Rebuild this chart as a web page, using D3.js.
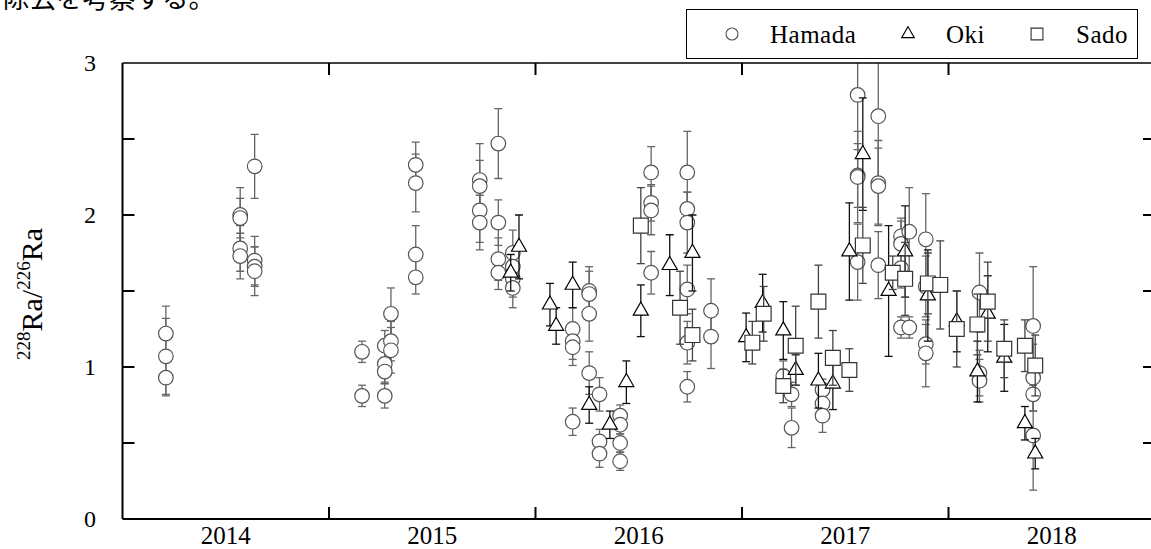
<!DOCTYPE html>
<html>
<head>
<meta charset="utf-8">
<script src="https://cdn.jsdelivr.net/npm/d3@7"></script>
<style>
  body { margin: 0; background: #fff; }
  svg { display: block; }
</style>
</head>
<body>
<script>
// Axis labels
const yearLabels = ["2014", "2015", "2016", "2017", "2018"];
const yMajorTicks = [0, 1, 2, 3];
const yMinorTicks = [0.5, 1.5, 2.5];
const seriesNames = ["Hamada", "Oki", "Sado"];

// Each row: [decimal year, 228Ra/226Ra activity ratio, ±error]
const hamada = [
  [2014.21, 1.22, 0.18], [2014.21, 1.07, 0.25], [2014.21, 0.93, 0.12],
  [2014.57, 2.00, 0.18], [2014.57, 1.98, 0.13], [2014.57, 1.78, 0.15], [2014.57, 1.73, 0.15],
  [2014.64, 2.32, 0.21], [2014.64, 1.70, 0.16], [2014.64, 1.66, 0.13], [2014.64, 1.63, 0.16],
  [2015.16, 1.10, 0.07], [2015.16, 0.81, 0.07],
  [2015.27, 1.14, 0.10], [2015.27, 1.02, 0.12], [2015.27, 0.97, 0.08], [2015.27, 0.81, 0.08],
  [2015.30, 1.35, 0.17], [2015.30, 1.17, 0.13], [2015.30, 1.11, 0.15],
  [2015.42, 2.33, 0.15], [2015.42, 2.21, 0.19], [2015.42, 1.74, 0.19], [2015.42, 1.59, 0.11],
  [2015.73, 2.23, 0.24], [2015.73, 2.19, 0.17], [2015.73, 2.03, 0.21], [2015.73, 1.95, 0.18],
  [2015.82, 2.47, 0.23], [2015.82, 1.95, 0.15], [2015.82, 1.71, 0.14], [2015.82, 1.62, 0.11],
  [2015.89, 1.75, 0.15], [2015.89, 1.66, 0.12], [2015.89, 1.58, 0.12], [2015.89, 1.52, 0.13],
  [2016.18, 1.25, 0.14], [2016.18, 1.17, 0.12], [2016.18, 1.13, 0.12], [2016.18, 0.64, 0.09],
  [2016.26, 1.50, 0.16], [2016.26, 1.48, 0.15], [2016.26, 1.35, 0.18], [2016.26, 0.96, 0.14],
  [2016.31, 0.82, 0.11], [2016.31, 0.51, 0.08], [2016.31, 0.43, 0.09],
  [2016.41, 0.68, 0.07], [2016.41, 0.62, 0.06], [2016.41, 0.50, 0.06], [2016.41, 0.38, 0.06],
  [2016.56, 2.28, 0.17], [2016.56, 2.08, 0.12], [2016.56, 2.03, 0.16], [2016.56, 1.62, 0.14],
  [2016.735, 2.28, 0.27], [2016.735, 2.04, 0.11], [2016.735, 1.95, 0.20], [2016.735, 1.51, 0.16],
  [2016.735, 1.16, 0.14], [2016.735, 0.87, 0.10],
  [2016.85, 1.37, 0.21], [2016.85, 1.20, 0.21],
  [2017.20, 0.94, 0.10],
  [2017.24, 0.82, 0.08], [2017.24, 0.60, 0.13],
  [2017.39, 0.85, 0.07], [2017.39, 0.76, 0.07], [2017.39, 0.68, 0.11],
  [2017.56, 2.79, 0.36], [2017.56, 2.26, 0.21], [2017.56, 2.25, 0.30], [2017.56, 1.69, 0.25],
  [2017.66, 2.65, 0.45], [2017.66, 2.21, 0.28], [2017.66, 2.19, 0.25], [2017.66, 1.67, 0.22],
  [2017.77, 1.86, 0.12], [2017.77, 1.81, 0.15], [2017.77, 1.65, 0.13], [2017.77, 1.26, 0.07],
  [2017.81, 1.89, 0.29], [2017.81, 1.26, 0.07],
  [2017.89, 1.84, 0.30], [2017.89, 1.53, 0.20], [2017.89, 1.15, 0.13], [2017.89, 1.09, 0.22],
  [2018.15, 1.49, 0.26], [2018.15, 0.96, 0.15], [2018.15, 0.91, 0.14],
  [2018.41, 1.27, 0.39], [2018.41, 0.93, 0.22], [2018.41, 0.82, 0.11], [2018.41, 0.55, 0.36]
];

const oki = [
  [2015.88, 1.62, 0.12], [2015.92, 1.79, 0.21],
  [2016.07, 1.41, 0.14], [2016.10, 1.27, 0.12], [2016.18, 1.54, 0.15],
  [2016.26, 0.75, 0.12], [2016.36, 0.62, 0.09], [2016.44, 0.90, 0.14],
  [2016.51, 1.37, 0.17], [2016.65, 1.67, 0.20], [2016.76, 1.75, 0.25],
  [2017.02, 1.195, 0.16], [2017.10, 1.42, 0.19], [2017.20, 1.24, 0.19], [2017.26, 0.98, 0.10],
  [2017.37, 0.91, 0.18], [2017.44, 0.89, 0.17], [2017.52, 1.76, 0.32], [2017.585, 2.40, 0.37],
  [2017.71, 1.50, 0.43], [2017.79, 1.76, 0.30], [2017.90, 1.47, 0.30],
  [2018.04, 1.30, 0.20], [2018.14, 0.97, 0.20], [2018.19, 1.35, 0.25], [2018.27, 1.06, 0.22],
  [2018.37, 0.63, 0.11], [2018.42, 0.43, 0.10]
];

const sado = [
  [2016.51, 1.93, 0.25], [2016.70, 1.39, 0.24], [2016.76, 1.21, 0.17],
  [2017.05, 1.16, 0.14], [2017.105, 1.35, 0.18], [2017.20, 0.875, 0.11], [2017.26, 1.14, 0.26],
  [2017.37, 1.43, 0.24], [2017.44, 1.06, 0.18], [2017.52, 0.98, 0.14], [2017.585, 1.80, 0.25],
  [2017.73, 1.62, 0.11], [2017.79, 1.58, 0.24], [2017.90, 1.55, 0.20], [2017.96, 1.54, 0.29],
  [2018.04, 1.25, 0.25], [2018.14, 1.28, 0.20], [2018.19, 1.43, 0.26], [2018.27, 1.12, 0.19],
  [2018.37, 1.14, 0.17], [2018.42, 1.01, 0.20]
];

const W = 1151, H = 549;
const serif = "'Liberation Serif', 'Times New Roman', serif";

const svg = d3.select("body").append("svg")
  .attr("width", W).attr("height", H)
  .attr("viewBox", `0 0 ${W} ${H}`);

// Scales: decimal year across, activity ratio up
const x = d3.scaleLinear().domain([2014, 2019]).range([122.5, 1155]);
const y = d3.scaleLinear().domain([0, 3]).range([519, 63]);
const [x0, x1] = x.range();
const [yb, yt] = y.range();

// Trailing line of the preceding paragraph, cut at the page top
svg.append("text")
  .attr("x", 3).attr("y", 8)
  .attr("font-family", "'Noto Sans CJK JP', sans-serif")
  .attr("font-size", 26.5)
  .attr("fill", "#000")
  .text("除去を考察する。");

// Clip region so long error bars stop at the frame
svg.append("clipPath").attr("id", "plot-clip")
  .append("rect").attr("x", x0).attr("y", yt).attr("width", x1 - x0).attr("height", yb - yt);

const plot = svg.append("g").attr("clip-path", "url(#plot-clip)");

const symbolPaths = {
  triangle: d3.symbol().type(d3.symbolTriangle).size(98)(),
  square: d3.symbol().type(d3.symbolSquare).size(220)()
};

const styles = [
  { data: hamada, shape: "circle", stroke: "#555", bar: "#666" },
  { data: oki, shape: "triangle", stroke: "#000", bar: "#111" },
  { data: sado, shape: "square", stroke: "#333", bar: "#444" }
];

const capHalf = 4;

styles.forEach(s => {
  const g = plot.append("g");
  // error bars
  const bars = g.append("g")
    .attr("stroke", s.bar).attr("stroke-width", 1.3).attr("fill", "none");
  s.data.forEach(([t, v, e]) => {
    const cx = x(t);
    bars.append("line").attr("x1", cx).attr("x2", cx).attr("y1", y(v + e)).attr("y2", y(v - e));
    bars.append("line").attr("x1", cx - capHalf).attr("x2", cx + capHalf).attr("y1", y(v + e)).attr("y2", y(v + e));
    bars.append("line").attr("x1", cx - capHalf).attr("x2", cx + capHalf).attr("y1", y(v - e)).attr("y2", y(v - e));
  });
  // markers
  const marks = g.append("g")
    .attr("stroke", s.stroke).attr("stroke-width", 1.2).attr("fill", "#fff");
  s.data.forEach(([t, v]) => {
    if (s.shape === "circle") {
      marks.append("circle").attr("cx", x(t)).attr("cy", y(v)).attr("r", 7.3);
    } else {
      marks.append("path").attr("d", symbolPaths[s.shape])
        .attr("transform", `translate(${x(t)},${y(v)})`);
    }
  });
});

// Frame
const frame = svg.append("g").attr("stroke", "#000").attr("fill", "none");
frame.append("line").attr("x1", x0).attr("x2", x1).attr("y1", yt).attr("y2", yt).attr("stroke-width", 1.5);
frame.append("line").attr("x1", x0).attr("x2", x1).attr("y1", yb).attr("y2", yb).attr("stroke-width", 2);
frame.append("line").attr("x1", x0).attr("x2", x0).attr("y1", yt).attr("y2", yb).attr("stroke-width", 2);
frame.append("line").attr("x1", x1).attr("x2", x1).attr("y1", yt).attr("y2", yb).attr("stroke-width", 2);

const tickLen = 12;
const yAllTicks = yMajorTicks.concat(yMinorTicks).filter(v => v > 0 && v < 3);
yAllTicks.forEach(v => {
  frame.append("line").attr("x1", x0).attr("x2", x0 + tickLen).attr("y1", y(v)).attr("y2", y(v)).attr("stroke-width", 2);
  frame.append("line").attr("x1", x1).attr("x2", x1 - tickLen).attr("y1", y(v)).attr("y2", y(v)).attr("stroke-width", 2);
});
const yearBounds = x.ticks(5).filter(t => t > 2014 && t < 2019);
yearBounds.forEach(t => {
  frame.append("line").attr("x1", x(t)).attr("x2", x(t)).attr("y1", yt).attr("y2", yt + tickLen).attr("stroke-width", 2);
  frame.append("line").attr("x1", x(t)).attr("x2", x(t)).attr("y1", yb).attr("y2", yb - tickLen).attr("stroke-width", 2);
});

// Y tick labels
svg.append("g").selectAll("text").data(yMajorTicks).join("text")
  .attr("x", 96).attr("y", d => y(d)).attr("dy", "0.35em")
  .attr("text-anchor", "end")
  .attr("font-family", serif).attr("font-size", 24)
  .text(d => d);

// Year labels centred in each year
svg.append("g").selectAll("text").data(yearLabels).join("text")
  .attr("x", d => x(+d + 0.5)).attr("y", 544)
  .attr("text-anchor", "middle")
  .attr("font-family", serif).attr("font-size", 25)
  .text(d => d);

// Y axis title: 228Ra/226Ra
const yTitle = svg.append("text")
  .attr("transform", `translate(42, 294) rotate(-90)`)
  .attr("text-anchor", "middle")
  .attr("font-family", serif).attr("font-size", 30);
yTitle.append("tspan").attr("font-size", 19).attr("dy", -12).text("228");
yTitle.append("tspan").attr("dy", 12).text("Ra/");
yTitle.append("tspan").attr("font-size", 19).attr("dy", -12).text("226");
yTitle.append("tspan").attr("dy", 12).text("Ra");

// Legend
const legend = svg.append("g");
legend.append("rect").attr("x", 686.5).attr("y", 9.5).attr("width", 451).attr("height", 49)
  .attr("fill", "#fff").attr("stroke", "#000").attr("stroke-width", 1);
const legendItems = [
  { name: seriesNames[0], shape: "circle", sx: 732, tx: 770, stroke: "#555" },
  { name: seriesNames[1], shape: "triangle", sx: 908, tx: 946, stroke: "#000" },
  { name: seriesNames[2], shape: "square", sx: 1037, tx: 1076, stroke: "#333" }
];
legendItems.forEach(it => {
  if (it.shape === "circle") {
    legend.append("circle").attr("cx", it.sx).attr("cy", 34).attr("r", 6)
      .attr("fill", "#fff").attr("stroke", it.stroke).attr("stroke-width", 1.1);
  } else {
    const sz = it.shape === "triangle" ? 70 : 140;
    const type = it.shape === "triangle" ? d3.symbolTriangle : d3.symbolSquare;
    legend.append("path").attr("d", d3.symbol().type(type).size(sz)())
      .attr("transform", `translate(${it.sx},34)`)
      .attr("fill", "#fff").attr("stroke", it.stroke).attr("stroke-width", 1.1);
  }
  legend.append("text").attr("x", it.tx).attr("y", 43)
    .attr("font-family", serif).attr("font-size", 25)
    .attr("letter-spacing", 0.5)
    .text(it.name);
});
</script>
</body>
</html>
